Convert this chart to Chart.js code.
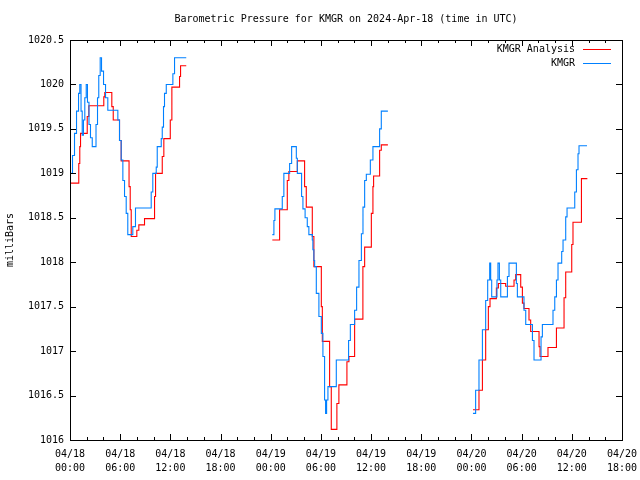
<!DOCTYPE html>
<html><head><meta charset="utf-8">
<script src="https://cdn.jsdelivr.net/npm/chart.js@4/dist/chart.umd.min.js"></script>
<style>html,body{margin:0;padding:0;background:#fff}canvas{display:block}</style>
</head><body>
<canvas id="c" width="640" height="480"></canvas>
<script>
const TITLE = 'Barometric Pressure for KMGR on 2024-Apr-18 (time in UTC)';
const Y_TITLE = 'milliBars';
const SERIES_NAMES = ['KMGR Analysis', 'KMGR'];
const SERIES_COLORS = ['#ff0000', '#0080ff'];
// x axis: hours since 04/18 00:00 UTC, labelled every 6 h
const X_TICK_LABELS = [
  ['04/18','00:00'],['04/18','06:00'],['04/18','12:00'],['04/18','18:00'],
  ['04/19','00:00'],['04/19','06:00'],['04/19','12:00'],['04/19','18:00'],
  ['04/20','00:00'],['04/20','06:00'],['04/20','12:00'],['04/20','18:00']
];
const Y_TICKS = [1016, 1016.5, 1017, 1017.5, 1018, 1018.5, 1019, 1019.5, 1020, 1020.5];

// KMGR observations, three runs (hours since 04/18 00:00)
const kmgrHours1 = [0.06,0.30,0.54,0.78,1.02,1.17,1.32,1.46,1.61,1.77,1.94,2.09,2.27,2.45,2.66,2.93,3.11,3.29,3.44,3.61,3.77,4.01,4.25,4.52,5.65,5.72,5.92,6.12,6.32,6.52,6.72,6.91,7.32,7.51,7.83,9.59,9.71,9.90,10.23,10.31,10.43,10.79,10.91,11.03,11.18,11.30,11.51,12.18,12.30,12.50,13.90];
const kmgrPress1 = [1019.00,1019.20,1019.45,1019.70,1019.90,1020.00,1019.70,1019.43,1019.60,1019.85,1020.00,1019.80,1019.55,1019.40,1019.30,1019.30,1019.55,1019.85,1020.10,1020.30,1020.15,1020.00,1019.85,1019.71,1019.71,1019.60,1019.37,1019.15,1018.92,1018.74,1018.55,1018.31,1018.31,1018.40,1018.61,1018.61,1018.79,1019.00,1019.00,1019.07,1019.30,1019.30,1019.39,1019.52,1019.75,1019.90,1020.00,1020.00,1020.12,1020.30,1020.30];
const kmgrHours2 = [24.19,24.38,24.50,25.18,25.38,25.57,26.10,26.26,26.50,26.89,27.06,27.18,27.49,27.69,27.85,28.11,28.37,28.56,28.97,29.04,29.16,29.25,29.45,29.76,30.05,30.24,30.44,30.56,30.68,30.84,31.64,31.84,33.23,33.31,33.52,33.83,34.03,34.27,34.55,34.84,35.03,35.23,35.43,35.74,35.91,36.22,36.82,37.02,37.22,38.01];
const kmgrPress2 = [1018.31,1018.47,1018.60,1018.60,1018.74,1019.00,1019.00,1019.11,1019.30,1019.30,1019.17,1019.00,1019.00,1018.74,1018.60,1018.50,1018.40,1018.31,1018.25,1018.14,1018.02,1017.95,1017.65,1017.39,1017.20,1016.94,1016.45,1016.30,1016.45,1016.60,1016.60,1016.90,1016.90,1017.12,1017.30,1017.30,1017.46,1017.72,1018.02,1018.32,1018.62,1018.92,1018.99,1018.99,1019.15,1019.30,1019.30,1019.50,1019.70,1019.70];
const kmgrHours3 = [48.18,48.50,48.90,49.31,49.70,49.94,50.18,50.30,50.42,50.90,51.05,51.17,51.34,51.50,52.10,52.30,52.49,53.21,53.37,53.49,54.09,54.28,54.49,55.08,55.29,55.48,56.16,56.32,56.48,57.56,57.75,57.96,58.16,58.35,58.64,58.79,58.95,59.27,59.43,60.14,60.35,60.55,60.74,60.86,61.82];
const kmgrPress3 = [1016.30,1016.56,1016.90,1017.24,1017.57,1017.80,1017.99,1017.80,1017.61,1017.61,1017.80,1017.99,1017.80,1017.61,1017.61,1017.84,1017.99,1017.99,1017.76,1017.61,1017.61,1017.46,1017.30,1017.30,1017.12,1016.90,1016.90,1017.16,1017.30,1017.30,1017.46,1017.61,1017.80,1017.99,1017.99,1018.12,1018.25,1018.51,1018.61,1018.61,1018.79,1019.04,1019.22,1019.31,1019.31];

// KMGR Analysis, three runs
const anaHours1 = [0.06,0.93,1.05,1.17,1.26,1.85,2.06,2.25,3.92,4.04,4.16,4.84,5.00,5.17,5.77,5.92,6.12,6.94,7.06,7.20,7.32,7.87,7.99,8.23,8.91,9.90,10.11,10.23,10.91,11.03,11.22,11.90,11.99,12.18,12.98,13.10,13.22,13.90];
const anaPress1 = [1018.89,1018.89,1019.11,1019.30,1019.45,1019.45,1019.64,1019.76,1019.76,1019.86,1019.91,1019.91,1019.75,1019.60,1019.60,1019.37,1019.14,1019.14,1018.85,1018.59,1018.29,1018.29,1018.36,1018.42,1018.49,1018.49,1018.74,1019.00,1019.00,1019.19,1019.39,1019.39,1019.60,1019.97,1019.97,1020.09,1020.21,1020.21];
const anaHours2 = [24.19,24.90,25.06,25.78,25.98,26.17,26.97,27.18,27.85,28.05,28.25,28.77,28.97,29.16,29.93,30.05,30.17,30.84,31.04,31.24,31.76,31.91,32.15,32.97,33.11,33.35,33.83,34.03,34.90,35.02,35.23,35.91,36.03,36.22,36.30,36.82,37.02,37.22,38.01];
const anaPress2 = [1018.25,1018.25,1018.59,1018.59,1018.92,1019.02,1019.02,1019.14,1019.14,1018.85,1018.62,1018.62,1018.29,1017.95,1017.95,1017.50,1017.11,1017.11,1016.60,1016.12,1016.12,1016.41,1016.62,1016.62,1016.88,1016.94,1016.94,1017.36,1017.36,1017.95,1018.17,1018.17,1018.55,1018.85,1018.97,1018.97,1019.26,1019.32,1019.32];
const anaHours3 = [48.18,48.50,48.90,49.31,49.70,50.02,50.22,50.81,50.98,51.22,51.77,52.09,52.89,53.09,53.29,53.77,53.89,54.09,54.28,54.69,54.88,55.08,55.89,56.08,56.20,56.88,57.15,57.96,58.16,58.88,59.07,59.27,59.83,59.99,60.14,60.94,61.15,61.86];
const anaPress3 = [1016.34,1016.34,1016.56,1016.90,1017.24,1017.50,1017.59,1017.59,1017.71,1017.76,1017.76,1017.73,1017.73,1017.80,1017.86,1017.86,1017.72,1017.54,1017.48,1017.48,1017.35,1017.22,1017.22,1017.05,1016.94,1016.94,1017.04,1017.04,1017.26,1017.26,1017.60,1017.89,1017.89,1018.20,1018.45,1018.45,1018.94,1018.94];

function buildSeries(runs) {
  const out = [];
  runs.forEach(([hrs, vals], i) => {
    if (i > 0) out.push({x: (hrs[0] + out[out.length - 1].x) / 2, y: null});
    hrs.forEach((h, j) => out.push({x: h, y: vals[j]}));
  });
  return out;
}

const FONT = {family: "'DejaVu Sans Mono', 'Liberation Mono', monospace", size: 10};

const decor = {
  id: 'decor',
  afterDatasetsDraw(chart) {
    const {ctx, chartArea: a, scales: {x, y}} = chart;
    ctx.save();
    ctx.strokeStyle = '#000';
    ctx.lineWidth = 1;
    ctx.beginPath();
    // ticks on x (major every 6 h, minor every 2 h), bottom and top
    for (let h = 0; h <= 66; h += 2) {
      const px = Math.round(x.getPixelForValue(h)) + 0.5;
      const len = h % 6 === 0 ? 6 : 3;
      ctx.moveTo(px, a.bottom); ctx.lineTo(px, a.bottom - len);
      ctx.moveTo(px, a.top); ctx.lineTo(px, a.top + len);
    }
    Y_TICKS.forEach(v => {
      const py = Math.round(y.getPixelForValue(v)) + 0.5;
      ctx.moveTo(a.left, py); ctx.lineTo(a.left + 6, py);
      ctx.moveTo(a.right, py); ctx.lineTo(a.right - 6, py);
    });
    ctx.stroke();
    ctx.strokeRect(Math.round(a.left) + 0.5, Math.round(a.top) + 0.5,
                   Math.round(a.right - a.left), Math.round(a.bottom - a.top));
    // title
    ctx.fillStyle = '#000';
    ctx.font = `${FONT.size}px ${FONT.family}`;
    ctx.textAlign = 'center';
    ctx.textBaseline = 'middle';
    ctx.fillText(TITLE, (a.left + a.right) / 2, 19);
    // legend
    ctx.textAlign = 'right';
    SERIES_NAMES.forEach((name, i) => {
      const ly = 49 + i * 14;
      ctx.fillStyle = '#000';
      ctx.fillText(name, a.right - 47, ly);
      ctx.strokeStyle = SERIES_COLORS[i];
      ctx.beginPath();
      ctx.moveTo(a.right - 39, ly + 0.5); ctx.lineTo(a.right - 11, ly + 0.5);
      ctx.stroke();
    });
    ctx.restore();
  }
};

new Chart(document.getElementById('c'), {
  type: 'line',
  data: {
    datasets: [
      {label: SERIES_NAMES[1], data: buildSeries([[kmgrHours1, kmgrPress1],[kmgrHours2, kmgrPress2],[kmgrHours3, kmgrPress3]]),
       borderColor: SERIES_COLORS[1], borderWidth: 1.1, stepped: 'before', pointRadius: 0, spanGaps: false, fill: false},
      {label: SERIES_NAMES[0], data: buildSeries([[anaHours1, anaPress1],[anaHours2, anaPress2],[anaHours3, anaPress3]]),
       borderColor: SERIES_COLORS[0], borderWidth: 1.1, stepped: 'before', pointRadius: 0, spanGaps: false, fill: false}
    ]
  },
  options: {
    responsive: false,
    devicePixelRatio: 1,
    animation: false,
    layout: {padding: {left: 4, right: 18, top: 40, bottom: 0}},
    plugins: {legend: {display: false}, title: {display: false}, tooltip: {enabled: false}},
    scales: {
      x: {
        type: 'linear', min: 0, max: 66,
        grid: {display: false, drawTicks: false}, border: {display: false},
        ticks: {stepSize: 6, autoSkip: false, maxRotation: 0, padding: 7, color: '#000',
                font: {...FONT, lineHeight: 1.4},
                callback: v => (v % 6 === 0 ? X_TICK_LABELS[v / 6] : '')},
        afterFit(s) { s.height = 40; s.paddingLeft = 0; s.paddingRight = 0; }
      },
      y: {
        type: 'linear', min: Y_TICKS[0], max: Y_TICKS[Y_TICKS.length - 1],
        grid: {display: false, drawTicks: false}, border: {display: false},
        ticks: {stepSize: 0.5, padding: 6, color: '#000', font: FONT, callback: v => String(v)},
        title: {display: true, text: Y_TITLE, color: '#000', font: FONT, padding: 0},
        afterFit(s) { s.width = 66; s.paddingTop = 0; s.paddingBottom = 0; }
      }
    }
  },
  plugins: [decor]
});
</script>
</body></html>
